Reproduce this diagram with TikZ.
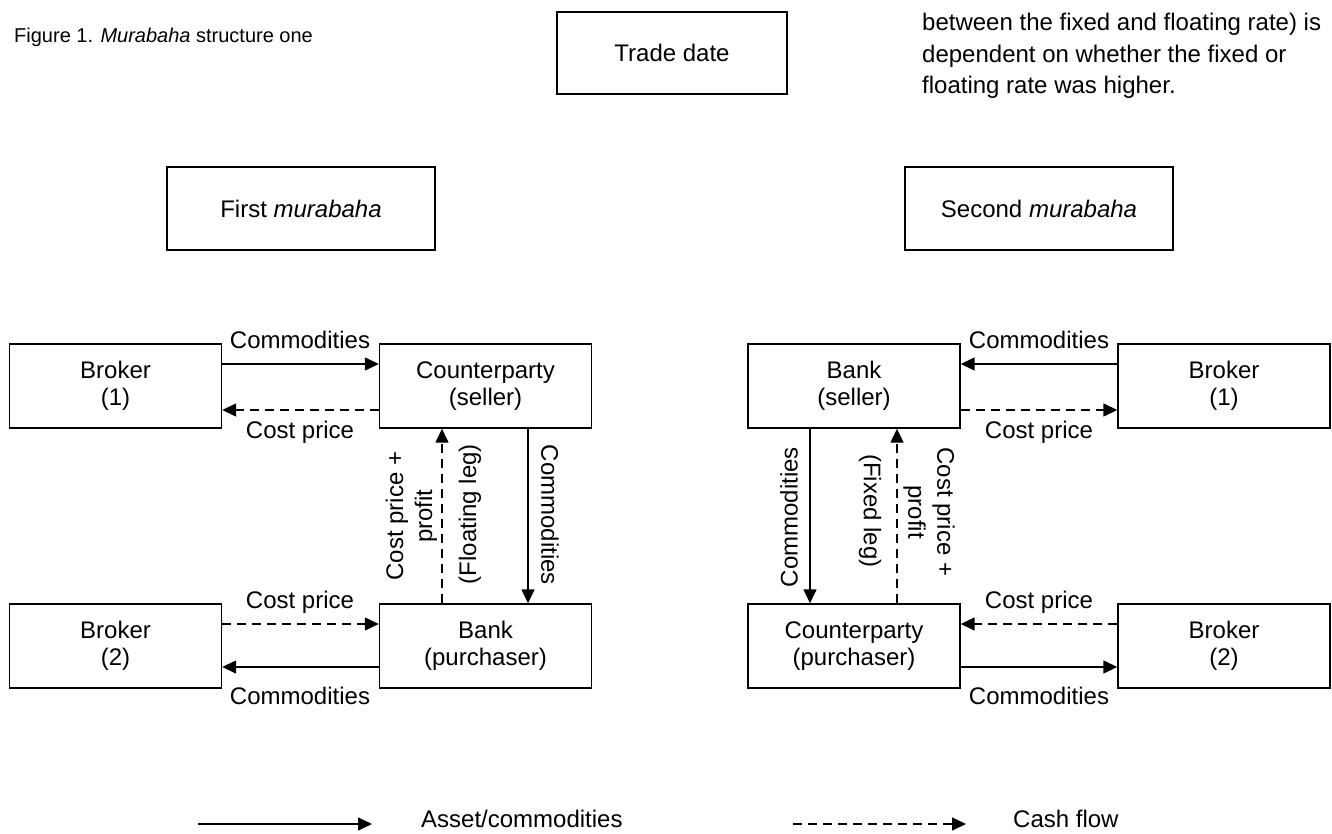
\documentclass[tikz,border=0pt]{standalone}
\usepackage{fontspec}
\setmainfont{Liberation Sans}
\usetikzlibrary{arrows.meta}
\begin{document}
\begin{tikzpicture}[x=1pt,y=-1pt,
  box/.style={draw, line width=1.4pt, minimum width=212pt, minimum height=84pt, inner sep=0pt, align=center, font=\fontsize{24}{27}\selectfont},
  lbl/.style={inner sep=0pt, align=center, font=\fontsize{24}{29}\selectfont},
  flow/.style={line width=1.4pt, -{Triangle[length=14pt,width=13pt]}},
  cash/.style={flow, dash pattern=on 9pt off 6pt}]
\useasboundingbox (0,0) rectangle (1332,834);

% caption and note
\node[anchor=west, inner sep=0pt, font=\fontsize{20}{23}\selectfont] (cap) at (14,37) {Figure 1. \textit{Murabaha} structure one};
\node[anchor=north west, inner sep=0pt, align=left, font=\fontsize{24}{31.5}\selectfont] (note) at (922,13)
  {between the fixed and floating rate) is\\dependent on whether the fixed or\\floating rate was higher.};

% header boxes
\node[box, minimum width=230pt, minimum height=82pt] (trade) at (672,53) {Trade date};
\node[box, minimum width=268pt, minimum height=83pt] (first) at (301,208.5) {First \textit{murabaha}};
\node[box, minimum width=268pt, minimum height=83pt] (second) at (1039,208.5) {Second \textit{murabaha}};

% left structure
\node[box] (bL1) at (115.5,386) {Broker\\(1)};
\node[box] (cpS) at (485.5,386) {Counterparty\\(seller)};
\node[box] (bL2) at (115.5,646) {Broker\\(2)};
\node[box] (bkP) at (485.5,646) {Bank\\(purchaser)};

% right structure
\node[box] (bkS) at (854,386) {Bank\\(seller)};
\node[box] (bR1) at (1224,386) {Broker\\(1)};
\node[box] (cpP) at (854,646) {Counterparty\\(purchaser)};
\node[box] (bR2) at (1224,646) {Broker\\(2)};

% guide coordinates
\coordinate (ya) at (0,364);
\coordinate (yb) at (0,410);
\coordinate (yc) at (0,624);
\coordinate (yd) at (0,667);
\coordinate (xa) at (442,0);
\coordinate (xb) at (528,0);
\coordinate (xc) at (810,0);
\coordinate (xd) at (897,0);

% left arrows
\draw[flow] (bL1.east |- ya) -- (cpS.west |- ya);
\draw[cash] (cpS.west |- yb) -- (bL1.east |- yb);
\draw[cash] (bL2.east |- yc) -- (bkP.west |- yc);
\draw[flow] (bkP.west |- yd) -- (bL2.east |- yd);
\draw[cash] (xa |- bkP.north) -- (xa |- cpS.south);
\draw[flow] (xb |- cpS.south) -- (xb |- bkP.north);

% right arrows
\draw[flow] (bR1.west |- ya) -- (bkS.east |- ya);
\draw[cash] (bkS.east |- yb) -- (bR1.west |- yb);
\draw[cash] (bR2.west |- yc) -- (cpP.east |- yc);
\draw[flow] (cpP.east |- yd) -- (bR2.west |- yd);
\draw[flow] (xc |- bkS.south) -- (xc |- cpP.north);
\draw[cash] (xd |- cpP.north) -- (xd |- bkS.south);

% left labels
\node[lbl] (l1) at (300,340) {Commodities};
\node[lbl] (l2) at (300,432) {Cost price};
\node[lbl] (l3) at (300,602) {Cost price};
\node[lbl] (l4) at (300,696) {Commodities};
\node[lbl, rotate=90] (l5) at (411.5,516) {Cost price +\\profit};
\node[lbl, rotate=90] (l6) at (470,514) {(Floating leg)};
\node[lbl, rotate=-90] (l7) at (550,515) {Commodities};

% right labels
\node[lbl] (r1) at (1039,340) {Commodities};
\node[lbl] (r2) at (1039,432) {Cost price};
\node[lbl] (r3) at (1039,602) {Cost price};
\node[lbl] (r4) at (1039,696) {Commodities};
\node[lbl, rotate=90] (r5) at (789,517) {Commodities};
\node[lbl, rotate=-90] (r6) at (870,511) {(Fixed leg)};
\node[lbl, rotate=-90] (r7) at (929,512) {Cost price +\\profit};

% legend
\coordinate (ls1) at (198,824);
\coordinate (ls2) at (372,824);
\coordinate (ld1) at (793,824);
\coordinate (ld2) at (966,824);
\draw[flow] (ls1) -- (ls2);
\draw[cash] (ld1) -- (ld2);
\node[lbl, anchor=west] (lt1) at (421,819) {Asset/commodities};
\node[lbl, anchor=west] (lt2) at (1013,819) {Cash flow};
\end{tikzpicture}
\end{document}
